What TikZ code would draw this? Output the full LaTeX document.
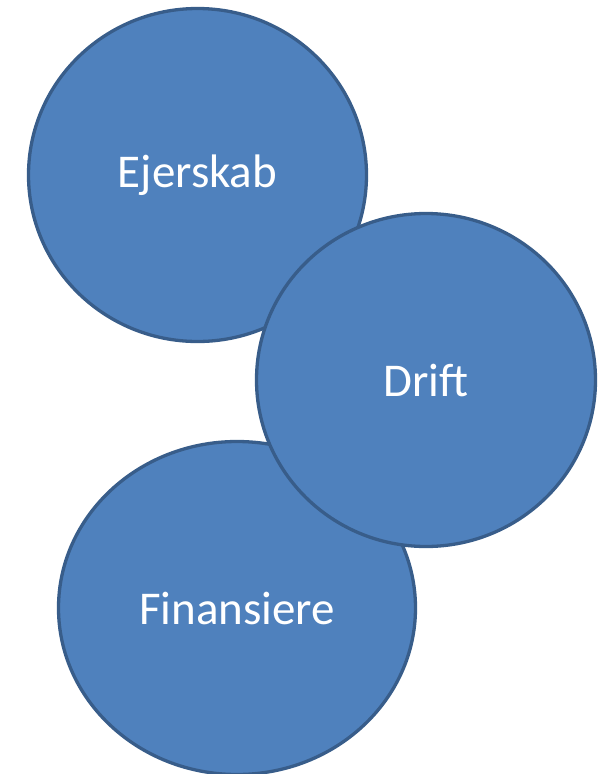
\documentclass[tikz,border=0pt]{standalone}
\usepackage{fontspec}
\setmainfont{Carlito}
\usetikzlibrary{shapes.geometric}
\definecolor{circfill}{HTML}{4F81BD}
\definecolor{circline}{HTML}{385D8A}
\begin{document}
\begin{tikzpicture}[x=1pt,y=-1pt,
  bubble/.style={ellipse, draw=circline, fill=circfill, line width=3.3pt,
    inner sep=0pt, text=white, font=\fontsize{47}{56}\selectfont}]
\useasboundingbox (0,0) rectangle (608,774);
\node[bubble, minimum width=338pt, minimum height=333pt] (ejer) at (197.5,175) {Ejerskab};
\node[bubble, minimum width=357pt, minimum height=333pt] (fin) at (237,608) {Finansiere};
\node[bubble, minimum width=339pt, minimum height=333pt] (drift) at (426,380) {Drift};
\end{tikzpicture}
\end{document}
